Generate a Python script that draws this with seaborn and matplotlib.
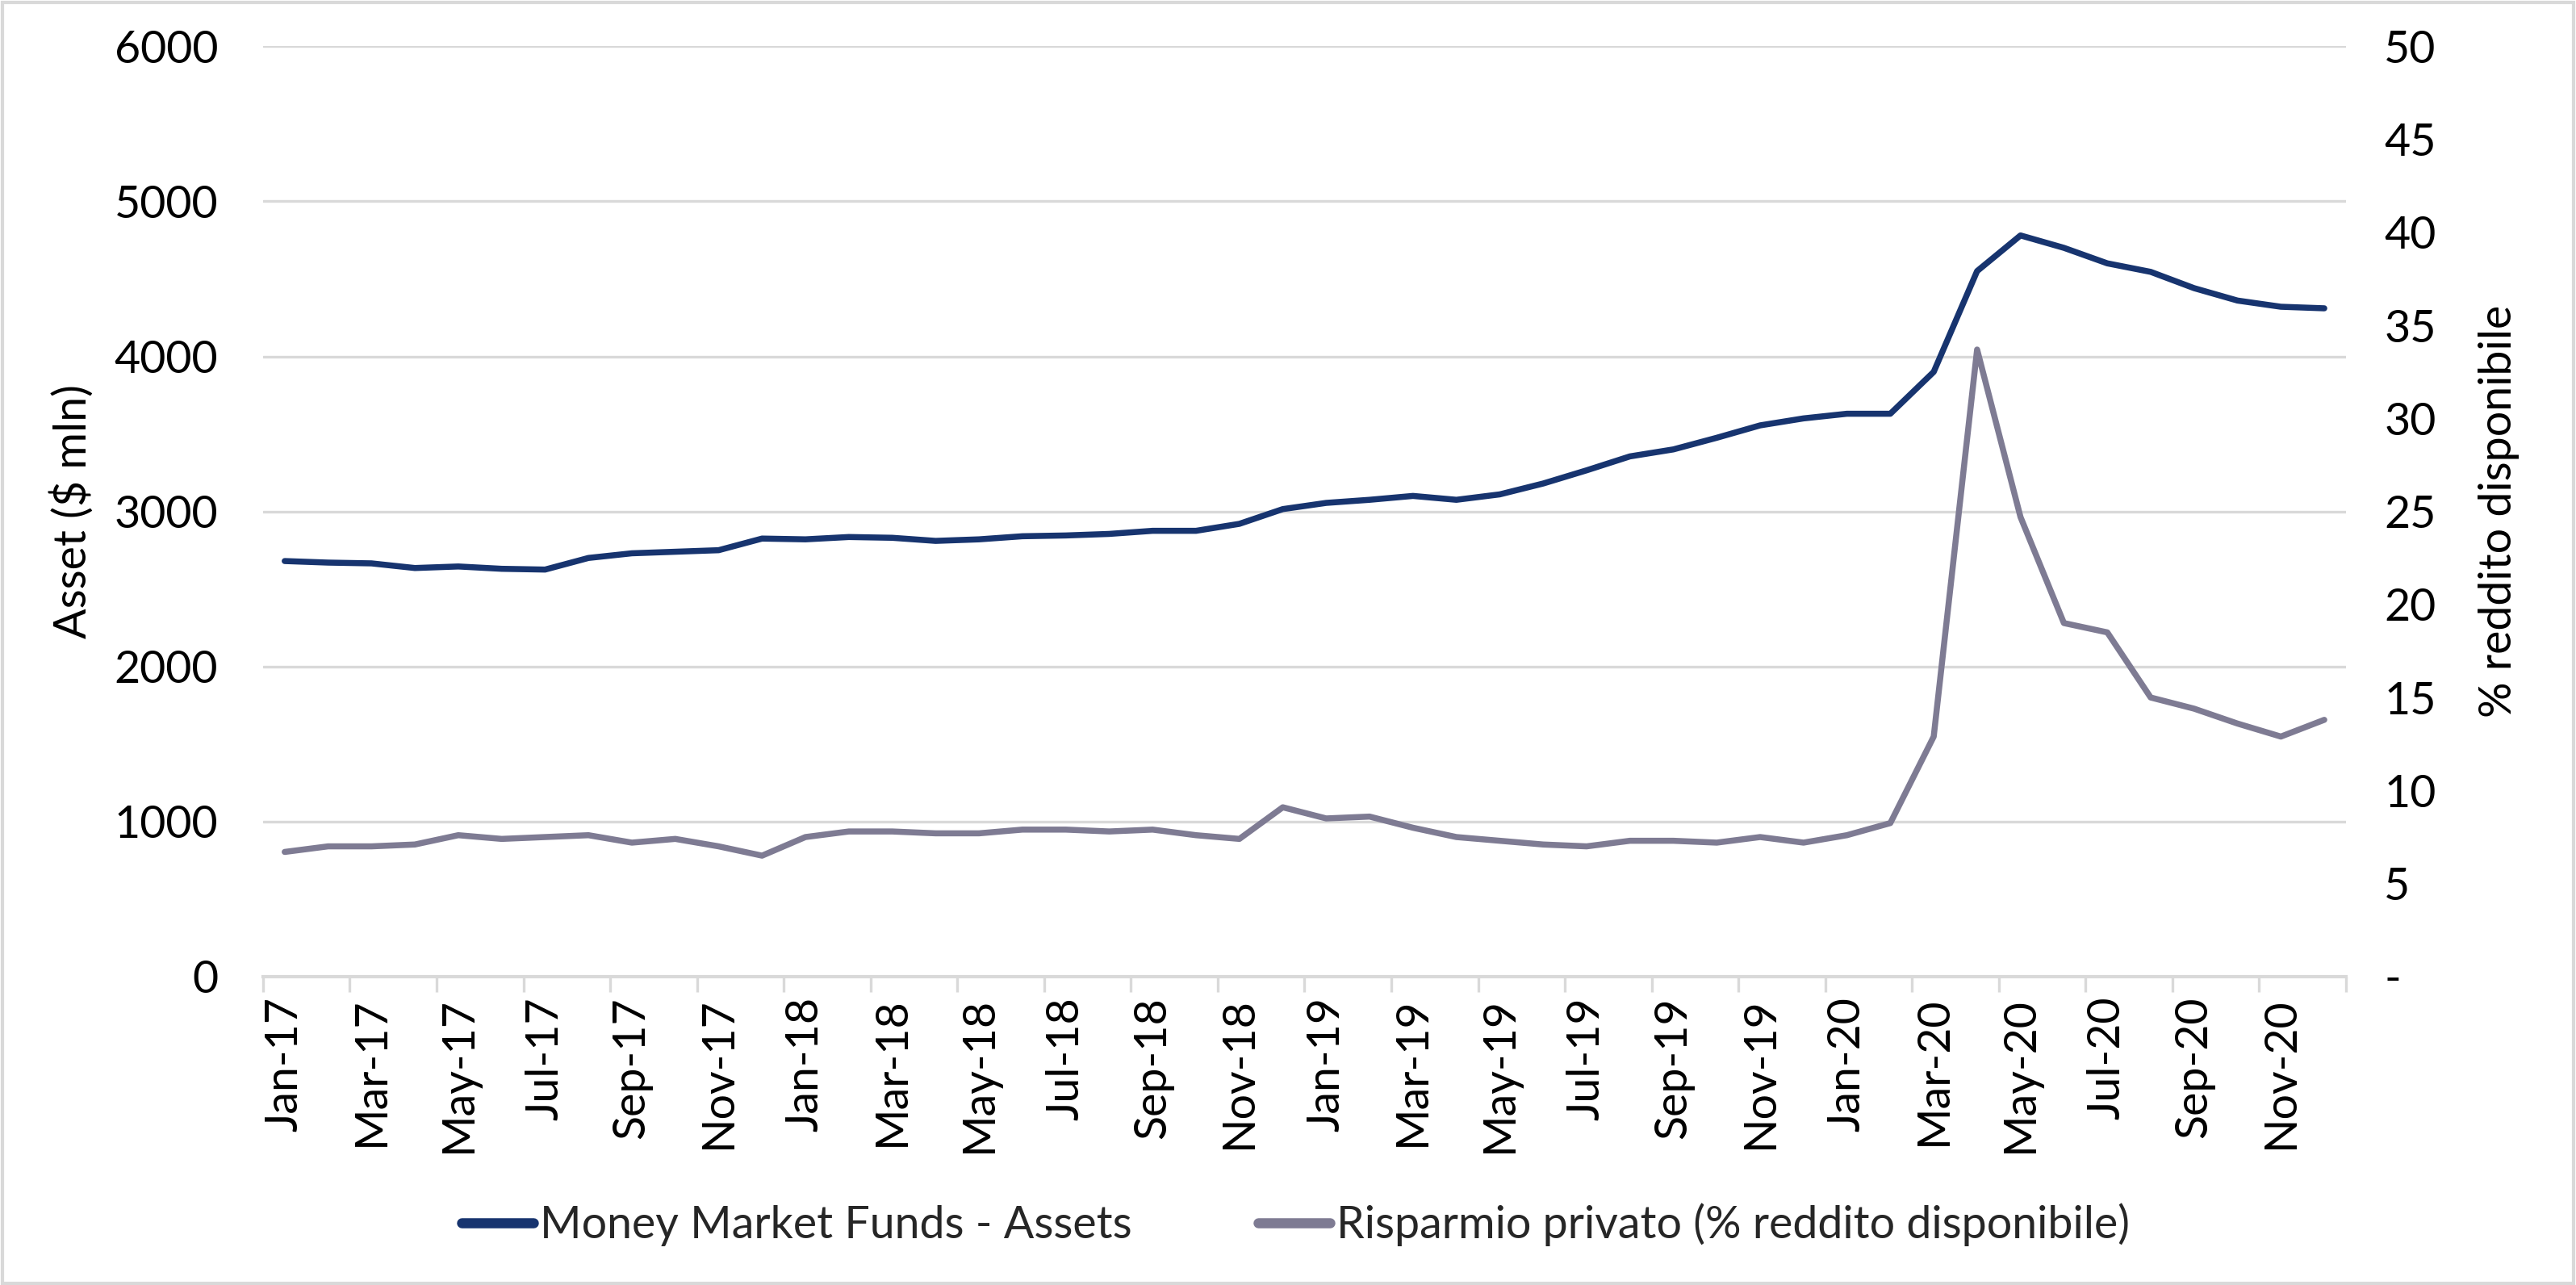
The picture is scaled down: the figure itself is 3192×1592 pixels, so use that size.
import numpy as np
import pandas as pd
import matplotlib
matplotlib.use("Agg")
import matplotlib.pyplot as plt
import seaborn as sns
from matplotlib.patches import Rectangle
from matplotlib.ticker import FixedLocator, FuncFormatter

months = ["Jan", "Feb", "Mar", "Apr", "May", "Jun", "Jul", "Aug", "Sep", "Oct", "Nov", "Dec"]
years = ["17", "18", "19", "20"]
dates = [f"{m}-{y}" for y in years for m in months]

mmf_assets = [2680, 2670, 2665, 2635, 2645, 2630, 2625, 2700, 2730, 2740, 2750, 2825,
              2820, 2835, 2830, 2810, 2820, 2840, 2845, 2855, 2875, 2875, 2920, 3015,
              3055, 3075, 3100, 3075, 3110, 3180, 3265, 3355, 3400, 3475, 3555, 3600,
              3630, 3630, 3900, 4550, 4780, 4700, 4600, 4545, 4440, 4360, 4320, 4310]

risparmio = [6.7, 7.0, 7.0, 7.1, 7.6, 7.4, 7.5, 7.6, 7.2, 7.4, 7.0, 6.5,
             7.5, 7.8, 7.8, 7.7, 7.7, 7.9, 7.9, 7.8, 7.9, 7.6, 7.4, 9.1,
             8.5, 8.6, 8.0, 7.5, 7.3, 7.1, 7.0, 7.3, 7.3, 7.2, 7.5, 7.2,
             7.6, 8.25, 12.9, 33.7, 24.7, 19.0, 18.5, 15.0, 14.4, 13.6, 12.9, 13.8]

label_mmf = "Money Market Funds - Assets"
label_ris = "Risparmio privato (% reddito disponibile)"

df = pd.DataFrame({"idx": np.arange(len(dates)), "date": dates,
                   "mmf": mmf_assets, "ris": risparmio})

sns.set_theme(style="white")
plt.rcParams["font.family"] = ["Lato", "DejaVu Sans"]

BLUE = "#17346F"
GRAY = "#7E7B93"
GRID = "#D9D9D9"
FS = 20

fig = plt.figure(figsize=(15.96, 7.96), dpi=200)
ax = fig.add_axes([0.1021, 0.2400, 0.8086, 0.7240])
ax2 = ax.twinx()

sns.lineplot(data=df, x="idx", y="mmf", ax=ax, color=BLUE, linewidth=2.7,
             label=label_mmf, legend=False)
sns.lineplot(data=df, x="idx", y="ris", ax=ax2, color=GRAY, linewidth=2.7,
             label=label_ris, legend=False)

ax.set_xlim(-0.5, len(dates) - 0.5)
ax.set_ylim(0, 6000)
ax2.set_ylim(0, 50)

ax.set_yticks(np.arange(0, 6001, 1000))
ax2.set_yticks(np.arange(0, 51, 5))
ax2.yaxis.set_major_formatter(FuncFormatter(lambda v, p: "-" if v == 0 else f"{int(v)}"))

ax.set_xticks(df["idx"][::2])
ax.set_xticklabels(df["date"][::2], rotation=90)
ax.xaxis.set_minor_locator(FixedLocator(np.arange(-0.5, len(dates), 2)))

ax.grid(axis="y", color=GRID, linewidth=1.2)
ax.set_axisbelow(True)
ax2.grid(False)

for a in (ax, ax2):
    for s in a.spines.values():
        s.set_visible(False)
ax.spines["bottom"].set_visible(True)
ax.spines["bottom"].set_color(GRID)
ax.spines["bottom"].set_linewidth(1.5)

ax.tick_params(axis="x", which="major", length=0, pad=9, labelsize=FS, colors="black")
ax.tick_params(axis="x", which="minor", length=7, width=1.2, color=GRID, bottom=True)
ax.tick_params(axis="y", length=0, pad=20, labelsize=FS, colors="black")
ax2.tick_params(axis="y", length=0, pad=17, labelsize=FS, colors="black")

ax.set_xlabel("")
ax.set_ylabel("Asset ($ mln)", fontsize=FS, color="black", labelpad=9)
ax2.set_ylabel("% reddito disponibile", fontsize=FS, color="black", labelpad=19)

h1, l1 = ax.get_legend_handles_labels()
h2, l2 = ax2.get_legend_handles_labels()
leg = fig.legend(h1 + h2, l1 + l2, loc="center", bbox_to_anchor=(0.503, 0.047), ncol=2,
                 frameon=False, fontsize=FS, handlelength=1.6, handletextpad=0.15,
                 columnspacing=2.8)
for lh in leg.get_lines():
    lh.set_linewidth(4.5)
    lh.set_solid_capstyle("round")

fig.patches.append(Rectangle((0.0008, 0.001), 0.9984, 0.997, transform=fig.transFigure,
                             fill=False, edgecolor=GRID, linewidth=1.5))

fig.savefig("out.png", dpi=200, facecolor="white")
